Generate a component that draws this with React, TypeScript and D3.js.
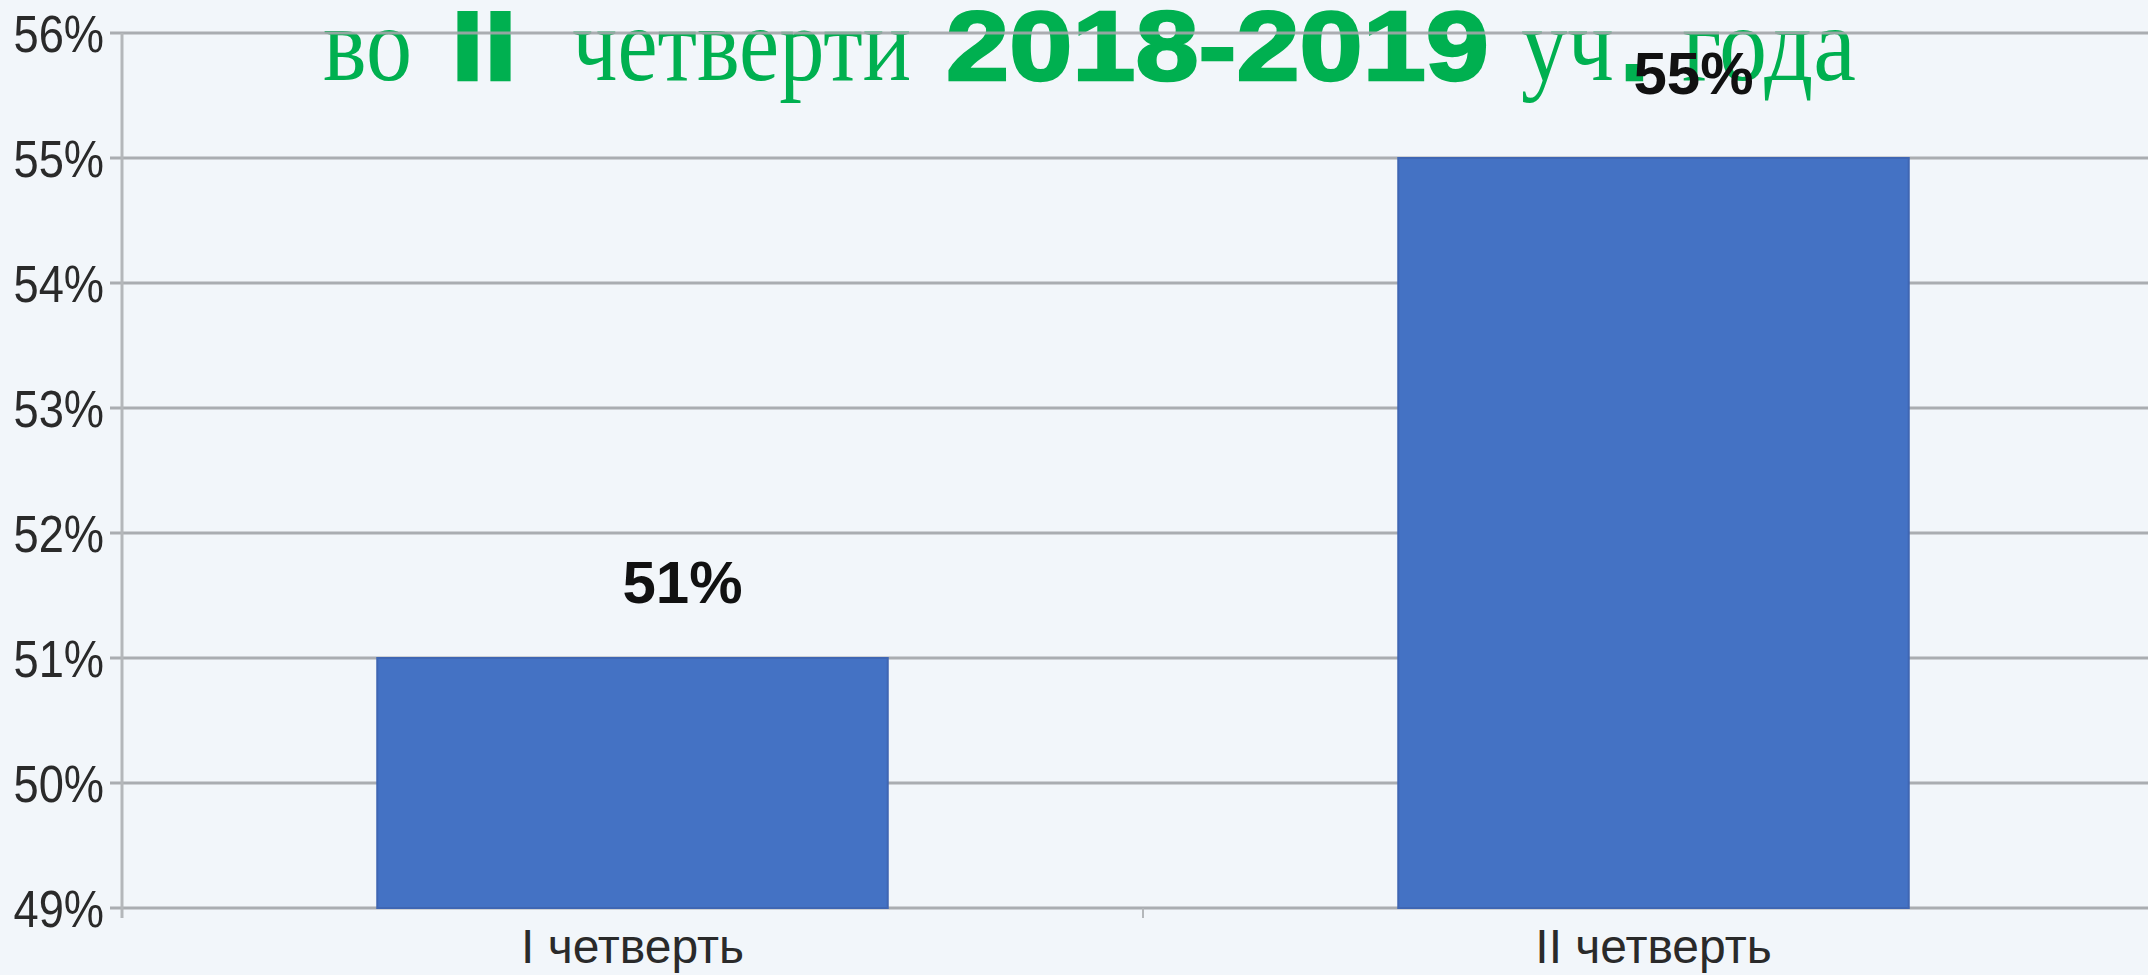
import React from "react";
import * as d3 from "d3";

const categories = ["I четверть", "II четверть"];
const values = [0.51, 0.55];
const valueLabels = ["51%", "55%"];
const yTicks = [0.49, 0.5, 0.51, 0.52, 0.53, 0.54, 0.55, 0.56];

// Title pieces: text, font kind
const titlePieces: { text: string; kind: "serif" | "black"; x: number; w: number }[] = [
  { text: "во", kind: "serif", x: 323, w: 89 },
  { text: "II", kind: "black", x: 451, w: 66 },
  { text: "четверти", kind: "serif", x: 572, w: 339 },
  { text: "2018-2019", kind: "black", x: 946, w: 543 },
  { text: "уч", kind: "serif", x: 1521, w: 93 },
  { text: ".", kind: "black", x: 1620, w: 29 },
  { text: "года", kind: "serif", x: 1682, w: 174 },
];

const W = 2148;
const H = 975;
const GREEN = "#00B050";
const BAR = "#4472C4";
const GRID = "#a3a6aa";

export default function App() {
  const y = d3.scaleLinear().domain([0.49, 0.56]).range([908, 33]);
  const x = d3
    .scaleBand<string>()
    .domain(categories)
    .range([122, 2164])
    .paddingInner(0.5)
    .paddingOuter(0.25);
  const fmt = d3.format(".0%");
  const axisX = 122;

  return (
    <div style={{ position: "fixed", left: 0, top: 0, width: W, height: H }}>
      <svg width={W} height={H} style={{ display: "block" }}>
        <rect x={0} y={0} width={W} height={H} fill="#F2F6FA" />

        {/* title */}
        {titlePieces.map((p, i) => (
          <text
            key={i}
            x={p.x}
            y={80}
            fill={GREEN}
            stroke={p.kind === "black" ? GREEN : "none"}
            strokeWidth={p.kind === "black" ? 2.5 : 0}
            fontFamily={p.kind === "serif" ? "'Liberation Serif', 'Times New Roman', serif" : "'Liberation Sans', Arial, sans-serif"}
            fontWeight={p.kind === "black" ? 900 : 400}
            fontSize={p.kind === "serif" ? 105 : 98}
            textLength={p.w}
            lengthAdjust="spacingAndGlyphs"
          >
            {p.text}
          </text>
        ))}

        {/* gridlines */}
        {yTicks.map((t) => (
          <line
            key={t}
            x1={axisX - 12}
            x2={W}
            y1={y(t)}
            y2={y(t)}
            stroke={GRID}
            strokeWidth={3}
            opacity={0.9}
          />
        ))}
        {/* y axis line */}
        <line x1={axisX} x2={axisX} y1={y(0.56)} y2={y(0.49) + 10} stroke="#b4b7ba" strokeWidth={3} />
        {/* category divider tick */}
        <line
          x1={(x(categories[0])! + x(categories[1])! + x.bandwidth()) / 2}
          x2={(x(categories[0])! + x(categories[1])! + x.bandwidth()) / 2}
          y1={y(0.49)}
          y2={y(0.49) + 10}
          stroke="#b4b7ba"
          strokeWidth={2}
        />

        {/* y tick labels */}
        {yTicks.map((t) => (
          <g key={"l" + t} transform={`translate(104, ${y(t)}) scale(0.87, 1)`}>
            <text
              x={0}
              y={0}
              dy="0.36em"
              textAnchor="end"
              fontFamily="'Liberation Sans', Arial, sans-serif"
              fontSize={52}
              fill="#2a2a2a"
            >
              {fmt(t)}
            </text>
          </g>
        ))}

        {/* bars */}
        {categories.map((c, i) => (
          <rect
            key={c}
            x={x(c)}
            y={y(values[i])}
            width={x.bandwidth()}
            height={y(0.49) - y(values[i])}
            fill={BAR}
            stroke="#3f66b3"
            strokeWidth={2}
          />
        ))}

        {/* value labels */}
        {categories.map((c, i) => (
          <text
            key={"v" + c}
            x={x(c)! + x.bandwidth() / 2 + (i === 0 ? 50 : 40)}
            y={y(values[i]) - (i === 0 ? 55 : 64)}
            textAnchor="middle"
            fontFamily="'Liberation Sans', Arial, sans-serif"
            fontWeight="bold"
            fontSize={60}
            fill="#111"
          >
            {valueLabels[i]}
          </text>
        ))}

        {/* category labels */}
        {categories.map((c) => (
          <text
            key={"c" + c}
            x={x(c)! + x.bandwidth() / 2}
            y={963}
            textAnchor="middle"
            fontFamily="'Liberation Sans', Arial, sans-serif"
            fontSize={48}
            fill="#2a2a2a"
          >
            {c}
          </text>
        ))}
      </svg>
    </div>
  );
}
